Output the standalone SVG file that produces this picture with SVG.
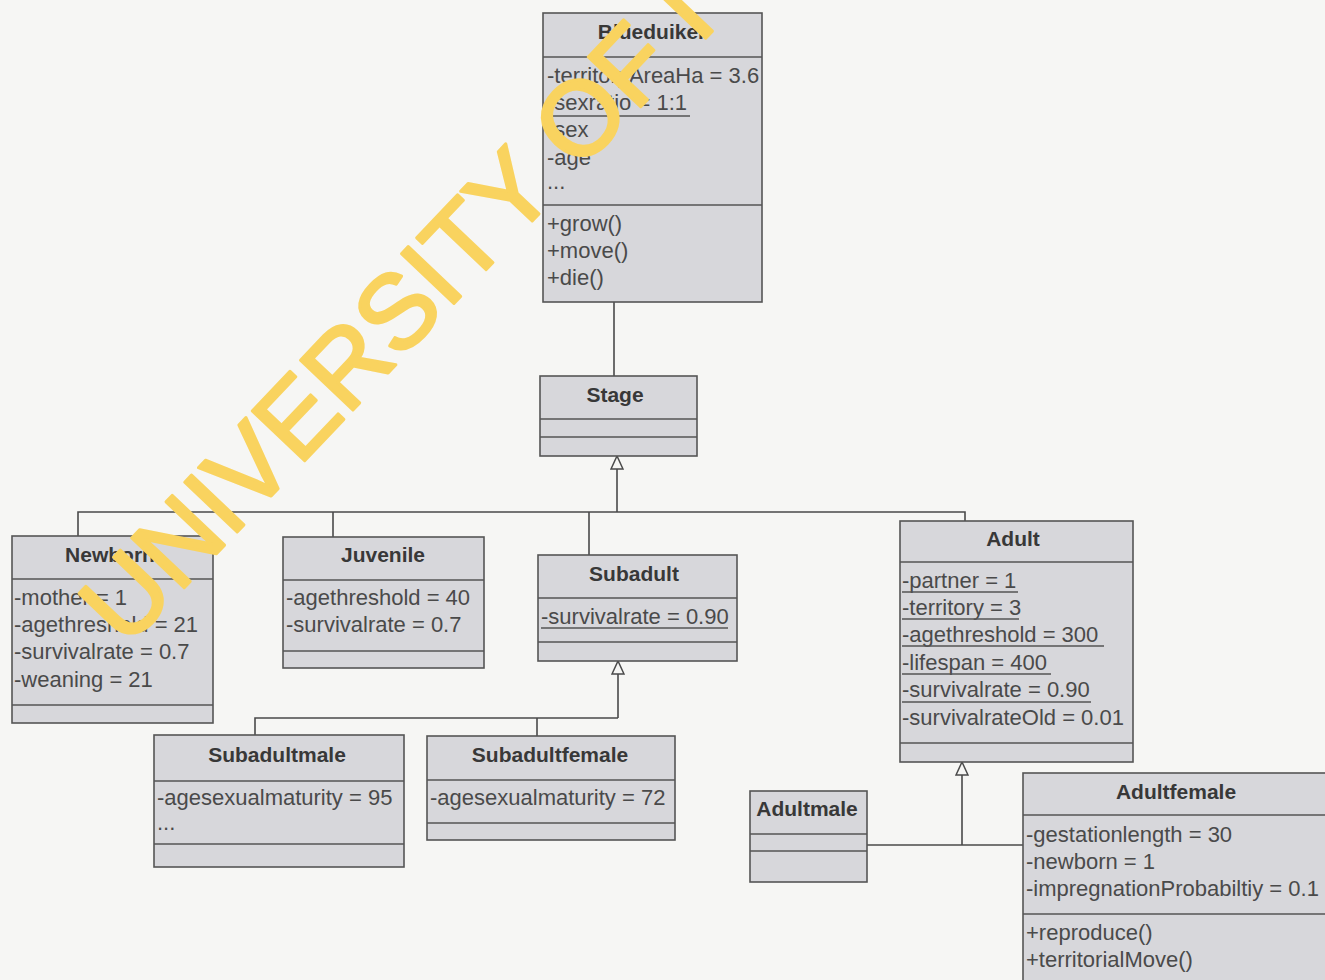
<svg xmlns="http://www.w3.org/2000/svg" width="1325" height="980" viewBox="0 0 1325 980">
<style>
.box{fill:#d7d7db;stroke:#555;stroke-width:1.6}
.sep{stroke:#555;stroke-width:1.6;fill:none}
.ul{stroke:#555;stroke-width:1.3;fill:none}
.t{font-family:"Liberation Sans",Arial,sans-serif;font-size:21px;font-weight:bold;fill:#383838;text-anchor:middle}
.a{font-family:"Liberation Sans",Arial,sans-serif;font-size:22px;fill:#4a4a4a}
.c{stroke:#4a4a4a;stroke-width:1.6;fill:none}
.wm{font-family:"Liberation Sans",Arial,sans-serif;font-size:105px;fill:#f9d35f;stroke:#f9d35f;stroke-width:3;stroke-linejoin:round}
</style>
<defs>
<marker id="gen" viewBox="0 0 14 14" refX="14" refY="7" markerWidth="14" markerHeight="14" markerUnits="userSpaceOnUse" orient="auto">
<path d="M1,1 L14,7 L1,13 z" fill="#f6f6f4" stroke="#4a4a4a" stroke-width="1.5"/>
</marker>
</defs>
<rect x="0" y="0" width="1325" height="980" fill="#f6f6f4"/>

<g id="connectors">
<path class="c" d="M614,302 V376"/>
<path class="c" d="M617,512 V456" marker-end="url(#gen)"/>
<path class="c" d="M78,536 V512 H965 V521"/>
<path class="c" d="M333,512 V537"/>
<path class="c" d="M589,512 V555"/>
<path class="c" d="M618,718 V661" marker-end="url(#gen)"/>
<path class="c" d="M255,736 V718 H618"/>
<path class="c" d="M537,718 V736"/>
<path class="c" d="M962,845 V762" marker-end="url(#gen)"/>
<path class="c" d="M867,845 H1023"/>
</g>

<g id="Blueduiker">
<rect class="box" x="543" y="13" width="219" height="289"/>
<path class="sep" d="M543,57 H762 M543,205 H762"/>
<text class="t" x="652" y="39">Blueduiker</text>
<text class="a" x="547" y="83">-territoryAreaHa = 3.6</text>
<text class="a" x="547" y="110">-sexratio = 1:1</text>
<path class="ul" d="M547,116 H690"/>
<text class="a" x="547" y="137">-sex</text>
<text class="a" x="547" y="165">-age</text>
<text class="a" x="547" y="189">...</text>
<text class="a" x="547" y="231">+grow()</text>
<text class="a" x="547" y="258">+move()</text>
<text class="a" x="547" y="285">+die()</text>
</g>

<g id="Stage">
<rect class="box" x="540" y="376" width="157" height="80"/>
<path class="sep" d="M540,419 H697 M540,437 H697"/>
<text class="t" x="615" y="402">Stage</text>
</g>

<g id="Newborn">
<rect class="box" x="12" y="536" width="201" height="187"/>
<path class="sep" d="M12,579 H213 M12,705 H213"/>
<text class="t" x="110" y="562">Newborn</text>
<text class="a" x="14" y="605">-mother = 1</text>
<text class="a" x="14" y="632">-agethreshold = 21</text>
<text class="a" x="14" y="659">-survivalrate = 0.7</text>
<text class="a" x="14" y="687">-weaning = 21</text>
</g>

<g id="Juvenile">
<rect class="box" x="283" y="537" width="201" height="131"/>
<path class="sep" d="M283,580 H484 M283,651 H484"/>
<text class="t" x="383" y="562">Juvenile</text>
<text class="a" x="286" y="605">-agethreshold = 40</text>
<text class="a" x="286" y="632">-survivalrate = 0.7</text>
</g>

<g id="Subadult">
<rect class="box" x="538" y="555" width="199" height="106"/>
<path class="sep" d="M538,598 H737 M538,642 H737"/>
<text class="t" x="634" y="581">Subadult</text>
<text class="a" x="541" y="624">-survivalrate = 0.90</text>
<path class="ul" d="M541,628 H728"/>
</g>

<g id="Adult">
<rect class="box" x="900" y="521" width="233" height="241"/>
<path class="sep" d="M900,562 H1133 M900,743 H1133"/>
<text class="t" x="1013" y="546">Adult</text>
<text class="a" x="902" y="588">-partner = 1</text>
<path class="ul" d="M902,592 H1018"/>
<text class="a" x="902" y="615">-territory = 3</text>
<path class="ul" d="M902,619 H1019"/>
<text class="a" x="902" y="642">-agethreshold = 300</text>
<path class="ul" d="M902,646 H1104"/>
<text class="a" x="902" y="670">-lifespan = 400</text>
<path class="ul" d="M902,674 H1051"/>
<text class="a" x="902" y="697">-survivalrate = 0.90</text>
<path class="ul" d="M902,702 H1091"/>
<text class="a" x="902" y="725">-survivalrateOld = 0.01</text>
</g>

<g id="Subadultmale">
<rect class="box" x="154" y="735" width="250" height="132"/>
<path class="sep" d="M154,781 H404 M154,844 H404"/>
<text class="t" x="277" y="762">Subadultmale</text>
<text class="a" x="157" y="805">-agesexualmaturity = 95</text>
<text class="a" x="157" y="830">...</text>
</g>

<g id="Subadultfemale">
<rect class="box" x="427" y="736" width="248" height="104"/>
<path class="sep" d="M427,780 H675 M427,823 H675"/>
<text class="t" x="550" y="762">Subadultfemale</text>
<text class="a" x="430" y="805">-agesexualmaturity = 72</text>
</g>

<g id="Adultmale">
<rect class="box" x="750" y="791" width="117" height="91"/>
<path class="sep" d="M750,834 H867 M750,851 H867"/>
<text class="t" x="807" y="816">Adultmale</text>
</g>

<g id="Adultfemale">
<rect class="box" x="1023" y="773" width="310" height="220"/>
<path class="sep" d="M1023,815 H1333 M1023,914 H1333"/>
<text class="t" x="1176" y="799">Adultfemale</text>
<text class="a" x="1026" y="842">-gestationlength = 30</text>
<text class="a" x="1026" y="869">-newborn = 1</text>
<text class="a" x="1026" y="896">-impregnationProbabiltiy = 0.1</text>
<text class="a" x="1026" y="940">+reproduce()</text>
<text class="a" x="1026" y="967">+territorialMove()</text>
</g>

<text class="wm" x="126" y="649" transform="rotate(-46.5 126 649)">UNIVERSITY OF I</text>
</svg>
